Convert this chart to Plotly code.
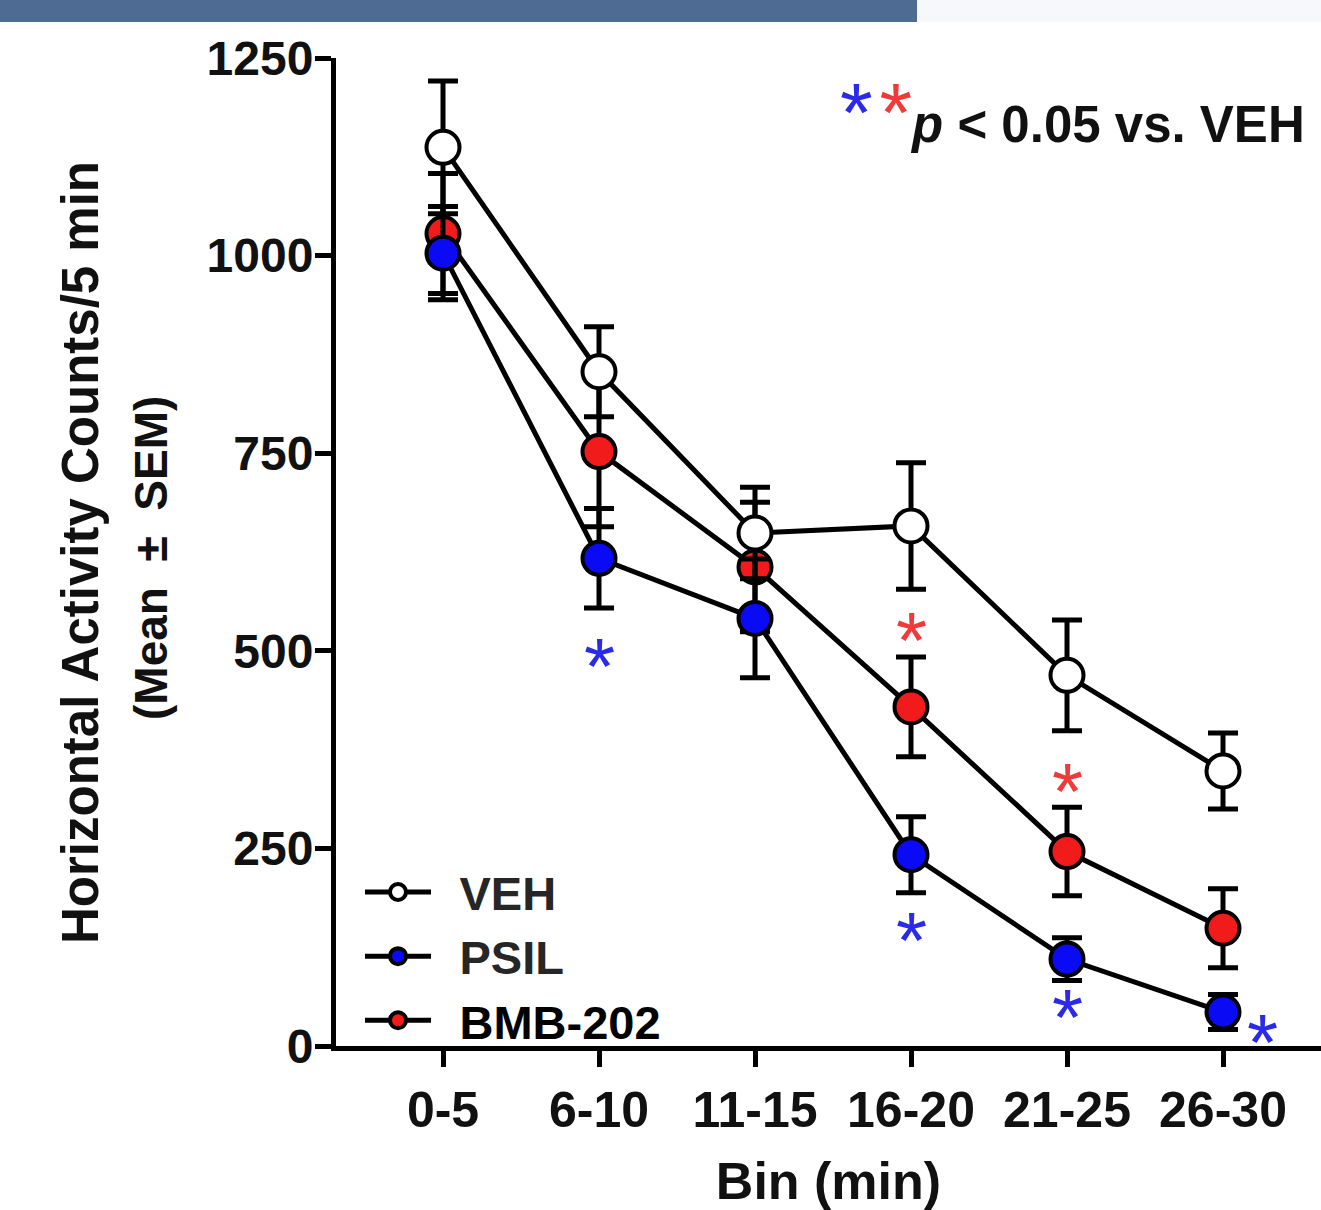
import plotly.graph_objects as go

# ---------------- data ----------------
bins = ["0-5", "6-10", "11-15", "16-20", "21-25", "26-30"]
y_ticks = [0, 250, 500, 750, 1000, 1250]

veh_mean = [1137, 853, 649, 658, 469, 348]
veh_sem = [84, 57, 58, 80, 70, 48]

psil_mean = [1003, 617, 541, 242, 110, 43]
psil_sem = [59, 63, 75, 48, 27, 22]

bmb_mean = [1028, 752, 606, 429, 246, 149]
bmb_sem = [76, 95, 82, 63, 56, 50]

# significance asterisks (bin index, value position)
psil_star_x = [1, 3, 4, 5.25]
psil_star_y = [495, 149, 51, 20]
bmb_star_x = [3, 4]
bmb_star_y = [528, 337]

# ---------------- layout constants ----------------
W, H = 1321, 1210
PL, PR, PT, PB = 336, 1321, 58, 1046
FONT = "Liberation Sans, Arial, sans-serif"
BLUE = "#0a0af5"
RED = "#f21b1b"
STAR_BLUE = "#2a2ae8"
STAR_RED = "#f03a3a"


def px(x):
    return (x - PL) / (PR - PL)


def py(y):
    return (PB - y) / (PB - PT)


xs = list(range(len(bins)))
x_lo = (PL - 443) / 156.0
x_hi = (PR - 443) / 156.0

fig = go.Figure()


def add_series(name, mean, sem, fill, rank):
    fig.add_trace(go.Scatter(
        x=xs, y=mean, name=name, mode="lines+markers",
        line=dict(color="black", width=5),
        marker=dict(size=33, color=fill, line=dict(color="black", width=4)),
        error_y=dict(type="data", array=sem, visible=True, color="black",
                     thickness=5, width=15),
        legendrank=rank, cliponaxis=False,
    ))


PAD = "\u2002"
add_series(PAD + '<span style="color:black">BMB-202</span>', bmb_mean, bmb_sem, RED, 3)
add_series(PAD + '<span style="color:#262626">VEH</span>', veh_mean, veh_sem, "white", 1)
add_series(PAD + '<span style="color:#262626">PSIL</span>', psil_mean, psil_sem, BLUE, 2)

annotations = []
for sx, sy in zip(psil_star_x, psil_star_y):
    annotations.append(dict(x=sx, y=sy, xref="x", yref="y", text="*", showarrow=False,
                            font=dict(family=FONT, size=80, color=STAR_BLUE),
                            yshift=-12))
for sx, sy in zip(bmb_star_x, bmb_star_y):
    annotations.append(dict(x=sx, y=sy, xref="x", yref="y", text="*", showarrow=False,
                            font=dict(family=FONT, size=80, color=STAR_RED),
                            yshift=-12))

# p-value key
annotations.append(dict(
    x=px(1307), y=py(113), xref="paper", yref="paper", xanchor="right", yanchor="middle",
    showarrow=False,
    text=('<span style="color:%s;font-size:84px">*</span>'
          '<span style="font-size:24px"> </span>'
          '<span style="color:%s;font-size:84px">*</span>'
          '<b><i>p</i> &lt; 0.05 vs. VEH</b>') % (STAR_BLUE, STAR_RED),
    font=dict(family=FONT, size=51, color="#111"),
))

# y axis title (two lines)
annotations.append(dict(
    x=px(80), y=py(553), xref="paper", yref="paper", xanchor="center", yanchor="middle",
    showarrow=False, textangle=-90,
    text="<b>Horizontal Activity Counts/5 min</b>",
    font=dict(family=FONT, size=51, color="#111"),
))
annotations.append(dict(
    x=px(151), y=py(558), xref="paper", yref="paper", xanchor="center", yanchor="middle",
    showarrow=False, textangle=-90,
    text="<b>(Mean  ±  SEM)</b>",
    font=dict(family=FONT, size=46, color="#111"),
))

shapes = [
    dict(type="rect", xref="paper", yref="paper", x0=px(0), x1=px(917), y0=py(22), y1=py(0),
         fillcolor="#4e6c93", line=dict(width=0), layer="above"),
    dict(type="rect", xref="paper", yref="paper", x0=px(917), x1=px(1321), y0=py(22), y1=py(0),
         fillcolor="#f7f8fb", line=dict(width=0), layer="above"),
]

fig.update_layout(
    width=W, height=H, autosize=False,
    margin=dict(l=PL, r=W - PR, t=PT, b=H - PB, pad=0, autoexpand=False),
    paper_bgcolor="white", plot_bgcolor="white",
    font=dict(family=FONT, color="#111"),
    showlegend=True,
    legend=dict(
        x=px(360), y=py(855), xanchor="left", yanchor="top",
        bgcolor="rgba(0,0,0,0)", itemwidth=66,
        font=dict(family=FONT, size=47, color="#222", weight="bold"),
        tracegroupgap=0,
    ),
    xaxis=dict(
        range=[x_lo, x_hi], tickmode="array", tickvals=xs, ticktext=bins,
        showline=True, linecolor="black", linewidth=5, mirror=False,
        ticks="outside", ticklen=16, tickwidth=5, tickcolor="black",
        tickfont=dict(family=FONT, size=50, color="#111", weight="bold"),
        showgrid=False, zeroline=False, automargin=False,
        title=dict(text="<b>Bin (min)</b>", font=dict(family=FONT, size=52, color="#111"),
                   standoff=50),
    ),
    yaxis=dict(
        range=[0, 1250], tickmode="array", tickvals=y_ticks,
        showline=True, linecolor="black", linewidth=5,
        ticks="outside", ticklen=16, tickwidth=5, tickcolor="black",
        ticklabelstandoff=-8, automargin=False,
        tickfont=dict(family=FONT, size=48, color="#111", weight="bold"),
        showgrid=False, zeroline=False,
    ),
    annotations=annotations,
    shapes=shapes,
)

fig.write_html(
    "out.html",
    config={"displayModeBar": False},
    post_script="document.body.style.margin='0px';document.body.style.overflow='hidden';",
)
